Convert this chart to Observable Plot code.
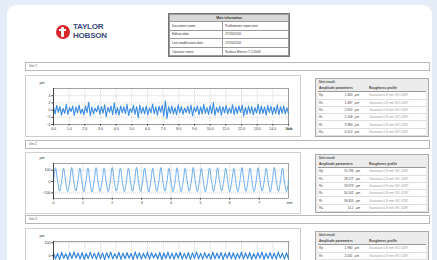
<!DOCTYPE html>
<html><head><meta charset="utf-8">
<script src="https://cdn.jsdelivr.net/npm/d3@7"></script>
<script src="https://cdn.jsdelivr.net/npm/@observablehq/plot@0.6"></script>
<style>
html,body{margin:0;padding:0;}
body{width:437px;height:260px;overflow:hidden;background:#e4edf8;font-family:"Liberation Sans",Arial,sans-serif;position:relative;}
#card{position:absolute;left:7px;top:5px;width:425px;height:280px;background:#fff;border-radius:9px;}
.abs{position:absolute;}
.bar{position:absolute;left:25px;width:400px;height:7px;border:1px solid #b8b8b8;font-size:3px;line-height:7px;padding-left:3px;color:#555;box-sizing:content-box;}
.panel{position:absolute;left:25px;width:274px;height:60px;border:1px solid #cfcfcf;}
.res{position:absolute;left:315px;width:112px;border:1px solid #a9a9a9;background:#ececec;font-size:3.2px;color:#444;}
.res table{border-collapse:collapse;width:108px;margin:0 2px;}
.res td{height:6.3px;padding:0 1px;line-height:6px;white-space:nowrap;}
.res .t{font-weight:bold;height:6px;line-height:6px;padding-left:3px;}
.res .h td{font-weight:bold;border-bottom:1px solid #999;}
.res .r td{background:#fff;border-bottom:0.5px solid #ddd;}
#hdr{position:absolute;left:168px;top:13px;width:120px;border:1px solid #777;font-size:3.2px;color:#333;}
#hdr table{border-collapse:collapse;width:100%;}
#hdr td{border:0.5px solid #999;height:7.6px;padding:0 2px;white-space:nowrap;}
#hdr .ti{background:#d8d8d8;font-weight:bold;text-align:center;height:6px;}
.chart{position:absolute;left:28px;}
</style></head><body>
<div id="card"></div>
<div class="abs" style="left:56px;top:25px;width:14px;height:14px;border-radius:7px;background:#d8262b;"></div>
<div class="abs" style="left:61px;top:27px;width:3px;height:10px;background:#fff;border-radius:1px;"></div>
<div class="abs" style="left:59px;top:29px;width:7px;height:2px;background:#fff;"></div>
<div class="abs" style="left:73px;top:23px;font-size:8px;font-weight:bold;color:#3a4a7c;line-height:8.5px;letter-spacing:-0.2px;">TAYLOR<br>HOBSON</div>
<div id="hdr"></div>
<script>
// ---- data ----
const headerTitle = "Main information";
const headerLabels = ["Document name", "Edition date", "Last modification date", "Operator name"];
const headerValues = ["Profilometer report.mnt", "27/05/2016", "27/05/2016", "Surface Metrics 7.2.2006"];
const unitNames = ["Unit 1", "Unit 2", "Unit 3"];
const paramNames = ["Rp", "Rv", "Rz", "Rc", "Rt", "Ra"];
const params1 = ["1.465", "1.487", "2.952", "2.108", "3.984", "0.512"];
const params2 = ["15.796", "18.177", "33.973", "30.102", "36.450", "11.2"];
const params3 = ["1.980", "2.041", "4.021", "3.114", "5.276", "0.73"];
const paramUnit = "µm";
const paramNote = "Gaussian 0.8 mm  ISO 4287";

const xTicks1 = [0,1,2,3,4,5,6,7,8,9,10,11,12,13,14,15];
const yTicks1 = [-4,-2,0,2,4];
const noise1 = [0.8,-1.1,1.3,-0.6,1.0,-1.4,0.5,-0.9,1.6,-1.2,0.7,-0.4,1.1,-1.5,0.9,-0.8,1.4,-1.0,0.3,-1.3,1.2,-0.7,2.2,-1.6,0.9,-1.1,0.6,-0.5,1.3,-1.2,1.0,-0.9,1.5,-1.8,0.8,-0.6,1.1,-1.3,2.0,-1.1,0.7,-1.4,1.2,-0.8,0.9,-1.0,1.6,-1.5,0.4,-0.7,1.3,-1.2,1.0,-2.1,1.4,-0.9,0.8,-1.1,1.2,-1.3,0.6,-0.8,1.7,-1.0,0.9,-1.4,1.1,-0.6,1.3,-1.7,2.6,-2.3,1.0,-0.9,1.2,-1.1,0.7,-1.3,1.5,-0.8,1.0,-1.2,0.6,-0.7,1.1,-1.0,1.4,-1.6,0.8,-0.5,1.2,-1.3,0.9,-1.1,1.6,-0.9,0.7,-1.2,1.3,-1.0,2.1,-1.5,0.8,-0.7,1.1,-1.4,1.0,-0.8,1.3,-1.1,0.6,-0.9,1.5,-1.3,0.9,-1.0,1.2,-0.6,1.4,-1.7,0.8,-1.2,1.1,-0.9,1.0,-1.3,0.7,-0.8,1.6,-1.1,1.2,-1.0,0.9,-1.4,1.3,-0.7,1.1,-1.2,0.8,-1.0,1.5,-1.3,1.0,-0.9,1.2,-1.1,0.7,-1.0];

const xTicks2 = [0,1,2,3,4,5,6,7];
const yTicks2 = [-100,0,100];
const sine2 = [0,122,4,-86, 2,118,-2,-90, 0,125,3,-84, -1,120,1,-88, 2,119,-3,-91, 0,123,2,-87, 1,117,0,-89, -2,124,3,-85, 0,121,-1,-90, 3,118,1,-86, 0,126,-2,-88, 1,120,2,-92, -1,119,0,-87, 2,124,1,-85, 0,117,-3,-89, 1,122,2,-90, 0,120,0,-86, -2,125,1,-88, 3,118,-1,-91, 0,121,2,-87, 1,123,0,-84, -1,119,3,-89, 2,116,-2,-90, 0,124,1,-86, 1,120,0,-88, -2,122,2,-85, 0,118,-1,-91, 3,125,1,-87, 0,121,-2,-89, 0];

const xTicks3 = [0,1,2,3,4,5,6,7,8,9,10,11,12,13,14,15];
const yTicks3 = [-100,0,100];
const noise3 = [22,-25,18,-30,27,-20,15,-28,24,-22,30,-18,20,-26,25,-29,17,-23,28,-21,19,-27,26,-24,21,-30,23,-19,29,-25,16,-22,27,-28,20,-24,25,-20,18,-29,30,-23,22,-26,19,-21,28,-27,24,-18,17,-25,26,-30,21,-22,29,-24,20,-28,23,-19,27,-26,18,-23,25,-29,22,-21,30,-25,19,-27,24,-20,16,-28,28,-24,21,-22,26,-30,20,-19,27,-25,23,-27,18,-21,29,-26,22,-23,25,-28,17,-24,24,-20,30,-29,19,-22,26,-25,21,-27,28,-18,20,-26,23,-24];

// ---- header table ----
{
  let h = `<table><tr><td class="ti" colspan="2">${headerTitle}</td></tr>`;
  headerLabels.forEach((l,i)=>{ h += `<tr><td style="width:48px">${l}</td><td>${headerValues[i]}</td></tr>`; });
  document.getElementById("hdr").innerHTML = h + "</table>";
}
// ---- section bars & panels ----
const barTops = [62, 140, 215];
const panelTops = [75, 152, 228];
const resTops = [78, 154, 231];
const paramSets = [params1, params2, params3];
barTops.forEach((t,i)=>{
  const b = document.createElement("div"); b.className="bar"; b.style.top=t+"px"; b.textContent=unitNames[i]; document.body.appendChild(b);
  const p = document.createElement("div"); p.className="panel"; p.style.top=panelTops[i]+"px"; document.body.appendChild(p);
  const r = document.createElement("div"); r.className="res"; r.style.top=resTops[i]+"px";
  let h = `<div class="t">Unit result</div><table><tr class="h"><td colspan="3">Amplitude parameters</td><td colspan="2">Roughness profile</td></tr>`;
  paramNames.forEach((n,j)=>{ h += `<tr class="r"><td>${n}</td><td style="text-align:right">${paramSets[i][j]}</td><td>${paramUnit}</td><td colspan="2" style="color:#999">${paramNote}</td></tr>`; });
  r.innerHTML = h + "</table>";
  document.body.appendChild(r);
});

// ---- charts ----
function chart(values, xmax, xTicks, yDomain, yTicks, top, h, mt, mb, color, sw, curve, fmt) {
  const rows = values.map((v,i)=>({x: i*xmax/(values.length-1), y: v}));
  const svg = Plot.plot({
    width: 270, height: h, marginLeft: 25, marginRight: 10, marginTop: mt, marginBottom: mb,
    style: {fontSize: "3.6px", fontFamily: "Liberation Sans, Arial, sans-serif", color: "#333", background: "transparent", overflow: "visible"},
    x: {domain: [0, xmax], label: null},
    y: {domain: yDomain, label: null},
    marks: [
      Plot.gridX(xTicks, {stroke: "#bbb", strokeOpacity: 0.6, strokeDasharray: "1,1"}),
      Plot.gridY(yTicks, {stroke: "#bbb", strokeOpacity: 0.6, strokeDasharray: "1,1"}),
      Plot.frame({stroke: "#666", strokeWidth: 0.6}),
      Plot.line(rows, {x: "x", y: "y", stroke: color, strokeWidth: sw, curve}),
      Plot.ruleX([0], {stroke: "#222", strokeWidth: 0.7}),
      Plot.axisX(xTicks, {tickSize: 1.5, tickPadding: 1.5, tickFormat: fmt, stroke: "#333"}),
      Plot.axisY(yTicks, {tickSize: 1.5, tickPadding: 1.5, stroke: "#333"}),
      Plot.text(["µm"], {frameAnchor: "top-left", dx: -14, dy: -7, fontSize: 3.6, fill: "#333"}),
      Plot.text(["mm"], {frameAnchor: "bottom-right", dx: 4, dy: 5, fontSize: 3.6, fill: "#333"})
    ]
  });
  svg.classList.add("chart");
  svg.style.position = "absolute";
  svg.style.left = "28px";
  svg.style.top = top + "px";
  document.body.appendChild(svg);
}
chart(noise1, 15, xTicks1, [-4, 6], yTicks1, 76, 60, 12, 12, "#3b8de2", 1.1, "linear", d3.format(".1f"));
chart(sine2, 8, xTicks2, [-150, 160], yTicks2, 152, 58, 11, 12, "#5aa4ec", 0.9, "catmull-rom", d3.format("d"));
chart(noise3, 15, xTicks3, [-130, 110], yTicks3, 229, 55, 12, 12, "#2f84df", 1.1, "linear", d3.format(".1f"));
</script>
</body></html>
